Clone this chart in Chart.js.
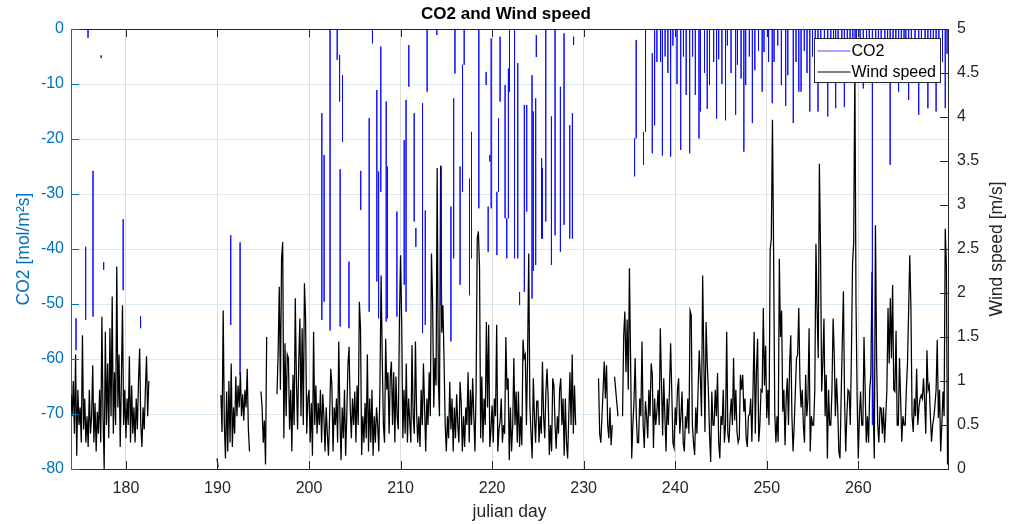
<!DOCTYPE html>
<html>
<head>
<meta charset="utf-8">
<title>CO2 and Wind speed</title>
<script src="https://cdn.jsdelivr.net/npm/chart.js@4.4.1/dist/chart.umd.min.js"></script>
<style>
  html, body { margin: 0; padding: 0; background: #fff; }
  #chart { display: block; }
</style>
</head>
<body>
<canvas id="chart" width="1012" height="525"></canvas>
<script>
const FONT = '"Liberation Sans", Arial, Helvetica, sans-serif';
const LEFT_BLUE = '#0072BD';
const DARK = '#262626';

// tick values for the three axes
const xTicks = [180, 190, 200, 210, 220, 230, 240, 250, 260];
const co2Ticks = [-80, -70, -60, -50, -40, -30, -20, -10, 0];
const windTicks = [0, 0.5, 1, 1.5, 2, 2.5, 3, 3.5, 4, 4.5, 5];

// CO2: each visible stroke as (day, upper value, lower value); 10 means it runs off the top
const co2Day = [
  174.55, 175.6, 175.86, 176.4, 177.3, 177.57, 179.7, 181.6,
  191.45, 192.47,
  201.4, 201.65, 202.3, 203.08, 203.34, 203.4, 203.66, 204.36, 205.65,
  206.57, 206.93, 207.41, 207.6, 207.84, 208.43, 208.57, 209.6, 210.4, 210.6, 210.9,
  211.49, 211.67, 212.4, 212.7, 212.9, 213.96, 214.44, 215.5, 215.8, 215.94,
  216.5, 216.77, 216.95, 217.53, 217.75, 218.55, 219.35, 219.57, 219.75, 219.9,
  220.52, 220.7, 220.87, 221.42, 221.6, 221.78, 221.9, 222.45, 222.8, 223.0,
  223.52, 223.78, 224.36, 224.5, 224.76, 224.83, 225.41, 225.5, 225.86, 226.48,
  226.88, 227.46, 227.86, 228.48, 228.77, 228.9,
  235.56, 235.74, 236.54, 236.76, 237.5, 237.75,
  238.0, 238.4, 238.6, 238.9, 239.2, 239.5, 239.75, 240.2, 240.6, 240.9,
  241.2, 241.58, 241.9, 242.2, 242.6, 242.75, 243.2, 243.5, 243.75, 244.2,
  244.52, 244.75, 245.1, 245.5, 245.7, 246.1, 246.6, 246.8, 247.2, 247.5,
  247.7, 248.1, 248.43, 248.7, 249.1, 249.5, 249.7, 250.2, 250.6, 250.8,
  251.2, 251.6, 252.07, 252.3, 252.9, 253.2, 253.5, 253.75, 254.1, 254.4,
  254.7, 255.0, 255.3, 255.6, 255.9, 256.3, 256.66, 257.0, 257.3, 257.53,
  257.8, 258.2, 258.48, 258.8, 259.1, 259.4, 259.65, 259.8, 260.2, 260.55,
  260.9, 261.2, 261.54, 261.9, 262.2, 262.5, 262.9, 263.2, 263.48, 263.8,
  264.1, 264.4, 264.7, 265.0, 265.2, 265.5, 265.8, 266.2, 266.6, 266.9,
  267.3, 267.6, 267.9, 268.2, 268.5, 268.8, 269.2, 269.5, 269.7
];
const co2Top = [
  -52.6, -39.6, 10, -25.8, -4.8, -42.4, -34.6, -52.2,
  -37.5, -38.8,
  -15.3, -22.9, 10, 10, -4.7, -25.5, -8.4, -42.3, -25.8,
  -16.2, 10, -11.1, -25.9, -3.2, -13.2, -25, -33.2, -20.2, -12.9, -2.9,
  -15.3, -36.2, -13.5, -33, 10, 10, -25, -32.3, -12.6, 10,
  -25, -6.5, 10, -27.2, -18.7, 10, -7.8, -32.3, -22.9, -1.7,
  -29.6, -16.2, -1.4, -10.2, -34.4, -7.2, 10, 10, -6.2, -47.8,
  -13.8, -13.8, -8.4, -15, -12.6, -1.1, -23.5, -25.3, 10, -15.9,
  10, -10.5, -0.8, -17.5, -15.3, -1.4,
  -19.9, -2, -18.7, 10, -4.4, 10,
  10, 10, 10, 10, 10, 10, 10, 10, 10, 10,
  10, 10, 10, 10, 10, 10, 10, 10, 10, 10,
  10, 10, 10, 10, 10, 10, 10, 10, 10, 10,
  10, 10, 10, 10, 10, 10, 10, 10, 10, 10,
  10, 10, 10, 10, 10, 10, 10, 10, 10, 10,
  10, 10, 10, 10, 10, 10, 10, 10, 10, 10,
  10, 10, 10, 10, 10, 10, 10, 10, 10, 10,
  10, 10, 10, 10, 10, 10, 10, 10, 10, 10,
  10, 10, 10, 10, 10, 10, 10, 10, 10, 10,
  10, 10, 10, 10, 10, 10, 10, 10, 10
];
const co2Low = [
  -58.4, -52.9, -1.6, -52.3, -5.3, -43.8, -47.5, -54.4,
  -53.8, -62.9,
  -52.9, -49.6, -54.8, -5.6, -13.2, -54.1, -20.5, -54.4, -32.9,
  -51.4, -2.6, -45.9, -52.6, -29.6, -53.2, -52.6, -52.3, -46.5, -51.4, -10.5,
  -35, -39.6, -55.3, -53.8, -11.4, -1.1, -50.2, -56.8, -41.7, -8.1,
  -46.5, -29.6, -6.5, -48.4, -41.7, -32.6, -10.2, -40.5, -24.1, -32.6,
  -41.1, -29.6, -13.2, -34.4, -41.7, -34.4, -11.4, -41.7, -41.7, -50.2,
  -47.8, -33.2, -49, -44, -42.9, -5.1, -38.1, -38.1, -35, -42.9,
  -37.5, -40.5, -35.6, -38.1, -38.1, -2.9,
  -26.8, -19.9, -24.7, -18.7, -22.6, -17.5,
  -6, -6, -23, -5, -8, -23.2, -3, -10, -22, -5,
  -12, -22.6, -5, -12, -19.9, -15, -8, -14.5, -10.2, -6,
  -16.3, -5.5, -10, -16.6, -3, -8, -15.6, -6.5, -9, -22.3,
  -10.2, -5, -17.1, -7.5, -4, -11.4, -4.2, -6, -13.5, -6,
  -3, -10.2, -14, -8.4, -17.1, -6, -11.4, -11.4, -4, -8,
  -15, -5, -7, -15, -5, -8, -15.9, -6, -9, -14.4,
  -5, -6, -14.2, -5, -4, -6, -8.4, -6, -4, -10.8,
  -5, -8, -72, -6, -9.7, -5, -8, -6, -24.7, -6,
  -8, -11.4, -6, -5, -8, -12.9, -6, -7, -15.6, -6,
  -8, -14.4, -5, -6, -15, -8, -6, -14.4, -4.5
];

// wind speed [m/s], 8 readings per day, in runs separated by gaps
const windPerDay = 8;
const windStart = [174.0, 189.95, 190.375, 194.75, 196.5, 231.625];
const wind174 = [
  /*174*/ 0.85, 0.6, 1.0, 0.4, 1.3, 0.15, 0.9, 0.5,
  /*175*/ 0.7, 0.3, 1.52, 0.45, 0.8, 0.3, 0.6, 0.25,
  /*176*/ 0.9, 0.4, 0.6, 1.18, 0.3, 0.75, 0.2, 0.65,
  /*177*/ 0.4, 0.9, 0.3, 1.73, 0.6, 0.0, 1.56, 0.5,
  /*178*/ 1.2, 0.35, 1.6, 0.6, 1.96, 0.4, 1.1, 0.5,
  /*179*/ 2.3, 0.7, 1.3, 0.25, 1.0, 1.86, 0.5, 0.9,
  /*180*/ 0.35, 0.8, 0.5, 1.28, 0.3, 0.95, 0.4, 0.7,
  /*181*/ 0.3, 0.8, 0.45, 1.0, 1.37, 0.5, 0.25, 0.7,
  /*182*/ 0.45, 0.9, 1.28, 0.6, 1.0
];
const wind190a = [0.12, 0.02];
const wind190b = [
  /*190.375*/ 0.84, 0.42, 1.8, 0.5, 0.12,
  /*191*/ 0.88, 0.2, 1.0, 0.3, 1.2, 0.25, 0.7, 0.4,
  /*192*/ 1.05, 0.6, 0.95, 0.7, 1.1, 0.6, 0.85, 0.55,
  /*193*/ 0.9, 0.7, 1.14, 0.45, 0.2
];
const wind194 = [0.88, 0.7, 0.3, 0.55, 0.05, 1.5];
const wind196 = [
  /*196.5*/ 0.85, 1.3, 2.07, 0.9,
  /*197*/ 2.39, 2.58, 0.35, 1.43, 0.6, 1.3, 1.26, 0.45,
  /*198*/ 0.9, 0.2, 1.07, 0.5, 1.94, 1.0, 0.45, 1.2,
  /*199*/ 1.71, 0.6, 1.6, 0.5, 2.11, 1.71, 0.4, 0.8,
  /*200*/ 0.9, 0.3, 0.75, 0.15, 1.56, 0.5, 0.95, 0.4,
  /*201*/ 0.75, 0.5, 0.9, 0.3, 0.85, 0.6, 0.2, 0.7,
  /*202*/ 0.4, 0.15, 0.6, 1.14, 0.95, 0.2, 0.7, 0.5,
  /*203*/ 0.8, 0.3, 1.45, 0.6, 0.1, 0.7, 0.35, 0.9,
  /*204*/ 0.15, 0.6, 1.18, 1.39, 0.7, 0.35, 0.8, 0.5,
  /*205*/ 0.88, 0.3, 0.95, 0.5, 1.9, 1.6, 0.16, 0.6,
  /*206*/ 0.3, 0.75, 0.35, 1.3, 0.2, 0.8, 0.3, 0.9,
  /*207*/ 0.15, 0.6, 0.3, 0.7, 0.5, 0.2, 0.95, 2.2,
  /*208*/ 1.26, 0.5, 0.3, 1.48, 0.9, 1.1, 0.4, 1.05,
  /*209*/ 1.22, 0.5, 1.1, 0.3, 1.05, 0.6, 0.45, 1.67,
  /*210*/ 2.43, 1.65, 0.35, 0.9, 0.4, 1.2, 0.3, 0.8,
  /*211*/ 0.55, 0.3, 1.41, 0.6, 0.4, 1.45, 0.65, 0.3,
  /*212*/ 0.6, 0.25, 0.9, 0.5, 1.2, 0.7, 0.2, 0.8,
  /*213*/ 0.5, 1.1, 0.6, 2.45, 1.9, 0.7, 1.26, 0.95,
  /*214*/ 3.42, 1.0, 0.6, 3.45, 1.55, 1.86, 1.24, 0.5,
  /*215*/ 0.2, 0.6, 0.35, 0.99, 0.45, 0.8, 0.2, 0.7,
  /*216*/ 0.35, 0.85, 0.5, 0.3, 0.99, 0.75, 0.2, 0.6,
  /*217*/ 0.25, 0.7, 0.5, 1.1, 0.3, 0.9, 0.5, 1.03,
  /*218*/ 0.6, 0.2, 0.9, 2.62, 2.7, 2.3, 0.35, 1.05,
  /*219*/ 0.3, 0.8, 0.5, 1.67, 0.7, 1.64, 0.25, 0.45,
  /*220*/ 0.72, 0.3, 0.8, 0.6, 1.64, 0.2, 0.45, 0.54,
  /*221*/ 0.8, 0.3, 0.5, 0.4, 1.5, 0.9, 1.03, 0.1,
  /*222*/ 0.7, 0.2, 0.5, 1.26, 0.5, 0.88, 0.3, 0.88,
  /*223*/ 0.25, 0.6, 0.27, 1.47, 1.26, 1.3, 0.5, 1.26,
  /*224*/ 2.45, 0.72, 0.4, 0.12, 1.03, 0.6, 0.3, 0.77,
  /*225*/ 0.77, 0.3, 0.6, 0.4, 1.22, 0.6, 0.35, 0.88,
  /*226*/ 1.14, 0.8, 0.16, 0.5, 0.2, 1.03, 0.95, 0.5,
  /*227*/ 0.23, 0.6, 0.4, 0.9, 1.03, 0.5, 0.8, 0.15,
  /*228*/ 0.8, 0.3, 0.12, 0.6, 1.1, 0.5, 1.3, 0.4,
  /*229*/ 0.95, 0.5
];
const wind231 = [
  /*231.625*/ 1.03, 0.4, 0.3,
  /*232*/ 0.6, 0.9, 1.22, 0.8, 1.18, 0.5, 0.35, 0.7,
  /*233*/ 0.27, 0.5, null, 1.05, 0.9, 0.75, 0.6, null,
  /*234*/ null, null, 0.6, 1.52, 1.79, 1.1, 1.7, 0.9,
  /*235*/ 2.28, 1.26, 0.12, 0.5, 0.77, 1.26, 0.6, 0.3,
  /*236*/ 0.3, 0.8, 0.6, 1.45, 0.5, 0.24, 0.77, 0.6,
  /*237*/ 0.35, 0.9, 0.6, 1.2, 1.07, 0.24, 0.8, 0.5,
  /*238*/ 0.65, 0.9, 0.5, 1.6, 1.0, 0.38, 1.03, 0.6,
  /*239*/ 0.2, 0.8, 0.5, 0.9, 1.43, 0.88, 0.3, 0.24,
  /*240*/ 0.7, 0.5, 0.9, 1.03, 0.4, 0.6, 0.88, 0.3,
  /*241*/ 0.2, 0.6, 0.46, 0.8, 0.4, 1.8, 1.75, 0.5,
  /*242*/ 0.3, 0.16, 0.7, 0.4, 0.9, 1.35, 1.03, 0.6,
  /*243*/ 2.2, 1.26, 0.42, 1.67, 1.2, 0.9, 0.4, 0.08,
  /*244*/ 0.88, 0.5, 0.5, 0.9, 0.6, 1.09, 0.3, 0.12,
  /*245*/ 0.6, 0.5, 0.9, 0.3, 0.5, 1.56, 0.4, 0.3,
  /*246*/ 0.6, 0.8, 0.5, 1.26, 0.55, 0.9, 0.42, 0.3,
  /*247*/ 0.35, 1.07, 0.9, 1.07, 0.65, 0.8, 0.35, 0.25,
  /*248*/ 0.6, 0.62, 0.8, 0.31, 0.9, 1.56, 0.4, 1.1,
  /*249*/ 1.48, 0.31, 0.5, 0.9, 0.88, 1.83, 0.95, 1.4,
  /*250*/ 0.58, 0.9, 0.5, 2.49, 2.62, 3.97, 2.45, 0.65,
  /*251*/ 0.3, 0.6, 0.31, 2.39, 1.5, 1.8, 0.65, 0.9,
  /*252*/ 0.27, 0.8, 1.03, 0.5, 1.2, 1.52, 0.6, 0.2,
  /*253*/ 0.5, 0.88, 1.26, 1.3, 1.83, 1.0, 0.7, 0.9,
  /*254*/ 0.5, 0.3, 1.07, 0.6, 0.8, 1.6, 0.2, 0.6,
  /*255*/ 0.5, 0.5, 0.9, 2.56, 1.8, 1.26, 3.47, 2.5,
  /*256*/ 0.88, 1.2, 1.71, 0.6, 1.07, 0.12, 0.9, 0.5,
  /*257*/ 0.5, 0.9, 1.71, 1.3, 0.6, 1.03, 0.69, 0.2,
  /*258*/ 0.12, 0.8, 1.43, 2.02, 0.8, 0.2, 0.6, 0.9,
  /*259*/ 0.88, 0.5, 1.3, 2.34, 2.58, 4.6, 1.9, 0.8,
  /*260*/ 0.12, 0.6, 0.88, 0.5, 0.5, 1.5, 0.9, 0.3,
  /*261*/ 0.6, 0.3, 0.9, 1.07, 2.24, 0.69, 0.12, 2.77,
  /*262*/ 1.26, 0.5, 0.3, 0.7, 0.69, 0.4, 0.7, 0.3,
  /*263*/ 0.6, 0.9, 1.83, 1.2, 1.94, 1.26, 2.09, 0.9,
  /*264*/ 0.88, 1.57, 0.5, 0.5, 1.26, 0.8, 0.31, 0.6,
  /*265*/ 0.5, 0.5, 0.9, 1.2, 1.8, 2.43, 1.83, 0.6,
  /*266*/ 0.42, 0.8, 0.6, 1.14, 0.5, 0.7, 0.8, 0.84,
  /*267*/ 0.8, 1.03, 0.77, 0.4, 1.35, 0.9, 0.95, 0.6,
  /*268*/ 0.31, 0.5, 0.58, 0.73, 0.9, 1.47, 0.58, 0.9,
  /*269*/ 0.2, 0.5, 0.88, 0.6, 2.73, 2.31, 0.05
];
const windSegments = [wind174, wind190a, wind190b, wind194, wind196, wind231];

// build the point lists
const co2Points = [];
co2Day.forEach((d, i) => {
  co2Points.push({x: d, y: co2Top[i]}, {x: d, y: co2Low[i]}, {x: d, y: null});
});

const windPoints = [];
windSegments.forEach((seg, s) => {
  seg.forEach((v, i) => windPoints.push({x: windStart[s] + i / windPerDay, y: v}));
  const last = windStart[s] + seg.length / windPerDay;
  windPoints.push({x: last, y: null});
});

const legendColors = {co2: 'rgba(0,0,255,0.7)', wind: '#000000'};

// MATLAB style ticks pointing into the plot, plus the top frame line
const inwardTicks = {
  id: 'inwardTicks',
  afterDatasetsDraw(chart) {
    const {ctx, chartArea: a, scales} = chart;
    const len = 8;
    ctx.save();
    ctx.lineWidth = 1;
    ctx.strokeStyle = DARK;
    ctx.beginPath();
    ctx.moveTo(a.left, a.top + 0.5);
    ctx.lineTo(a.right, a.top + 0.5);
    ctx.stroke();
    ctx.beginPath();
    scales.x.ticks.forEach(t => {
      const px = Math.round(scales.x.getPixelForValue(t.value)) + 0.5;
      ctx.moveTo(px, a.bottom); ctx.lineTo(px, a.bottom - len);
      ctx.moveTo(px, a.top); ctx.lineTo(px, a.top + len);
    });
    scales.y1.ticks.forEach(t => {
      const py = Math.round(scales.y1.getPixelForValue(t.value)) + 0.5;
      ctx.moveTo(a.right, py); ctx.lineTo(a.right - len, py);
    });
    ctx.stroke();
    ctx.strokeStyle = LEFT_BLUE;
    ctx.beginPath();
    scales.y.ticks.forEach(t => {
      const py = Math.round(scales.y.getPixelForValue(t.value)) + 0.5;
      ctx.moveTo(a.left, py); ctx.lineTo(a.left + len, py);
    });
    ctx.stroke();
    ctx.restore();
  }
};

// boxed legend in the top right corner and right axis title (reads bottom to top)
const boxLegend = {
  id: 'boxLegend',
  afterDraw(chart) {
    const {ctx, chartArea: a} = chart;
    const right = a.right - 7.5, top = a.top + 9.5, w = 126, h = 44;
    const left = right - w;
    ctx.save();
    ctx.fillStyle = '#ffffff';
    ctx.fillRect(left, top, w, h);
    ctx.strokeStyle = DARK;
    ctx.lineWidth = 1;
    ctx.strokeRect(left, top, w, h);
    ctx.font = '16px ' + FONT;
    ctx.textBaseline = 'middle';
    ctx.textAlign = 'left';
    const rows = [
      {label: chart.data.datasets[0].label, color: legendColors.co2, y: top + 12},
      {label: chart.data.datasets[1].label, color: legendColors.wind, y: top + 33}
    ];
    rows.forEach(r => {
      ctx.strokeStyle = r.color;
      ctx.beginPath();
      ctx.moveTo(left + 3, r.y + 0.5);
      ctx.lineTo(left + 36, r.y + 0.5);
      ctx.stroke();
      ctx.fillStyle = '#000';
      ctx.fillText(r.label, left + 37, r.y + 1);
    });

    ctx.translate(997, (a.top + a.bottom) / 2);
    ctx.rotate(-Math.PI / 2);
    ctx.textAlign = 'center';
    ctx.font = '17.5px ' + FONT;
    ctx.fillStyle = DARK;
    ctx.fillText('Wind speed [m/s]', 0, 0);
    ctx.restore();
  }
};

Chart.defaults.font.family = FONT;

new Chart(document.getElementById('chart'), {
  type: 'line',
  data: {
    datasets: [{
      label: 'CO2',
      data: co2Points,
      yAxisID: 'y',
      borderColor: legendColors.co2,
      borderWidth: 1,
      pointRadius: 0,
      spanGaps: false,
      tension: 0
    }, {
      label: 'Wind speed',
      data: windPoints,
      yAxisID: 'y1',
      borderColor: legendColors.wind,
      borderWidth: 1.25,
      pointRadius: 0,
      spanGaps: false,
      tension: 0
    }]
  },
  options: {
    responsive: false,
    animation: false,
    events: [],
    layout: { padding: 0 },
    plugins: {
      legend: { display: false },
      tooltip: { enabled: false },
      title: {
        display: true,
        text: 'CO2 and Wind speed',
        color: '#000',
        font: { size: 17, weight: 'bold', family: FONT },
        padding: { top: 4, bottom: 4.6 }
      }
    },
    scales: {
      x: {
        type: 'linear',
        min: 174,
        max: 269.8,
        afterBuildTicks: s => { s.ticks = xTicks.map(v => ({value: v})); },
        afterFit: s => { s.height = 56; },
        grid: { color: '#dcdcdc', drawTicks: false },
        border: { color: DARK },
        ticks: { color: DARK, font: { size: 16 }, padding: 10, maxRotation: 0, callback: v => String(v) },
        title: { display: true, text: 'julian day', color: DARK, font: { size: 17.5 }, padding: { top: 0, bottom: 2 } }
      },
      y: {
        position: 'left',
        min: -80,
        max: 0,
        afterBuildTicks: s => { s.ticks = co2Ticks.map(v => ({value: v})); },
        afterFit: s => { s.width = 71; },
        grid: { color: 'rgb(219,234,245)', drawTicks: false },
        border: { color: LEFT_BLUE },
        ticks: { color: LEFT_BLUE, font: { size: 16 }, padding: 7, callback: v => String(v) },
        title: { display: true, text: 'CO2 [mol/m²s]', color: LEFT_BLUE, font: { size: 17.5 }, padding: { top: 14 } }
      },
      y1: {
        position: 'right',
        min: 0,
        max: 5,
        afterBuildTicks: s => { s.ticks = windTicks.map(v => ({value: v})); },
        afterFit: s => { s.width = 64; },
        grid: { display: false, drawTicks: false },
        border: { color: DARK },
        ticks: { color: DARK, font: { size: 16 }, padding: 9, callback: v => String(v) }
      }
    }
  },
  plugins: [inwardTicks, boxLegend]
});
</script>
</body>
</html>
